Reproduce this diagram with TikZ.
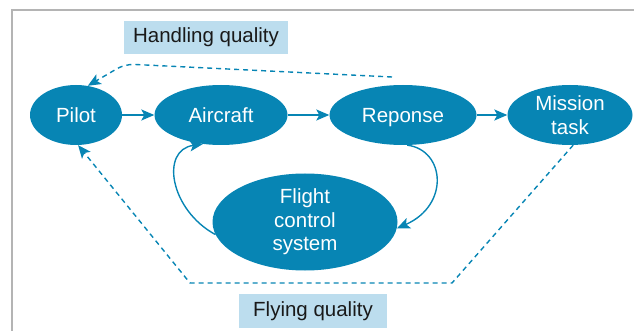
\documentclass[tikz,border=0pt]{standalone}
\usepackage{fontspec}
\setmainfont{Liberation Sans}
\usetikzlibrary{shapes.geometric,arrows.meta}
\definecolor{flowblue}{HTML}{0785B4}
\definecolor{tagblue}{HTML}{BCDDEE}
\definecolor{framegray}{HTML}{B4B4B4}
\begin{document}
\begin{tikzpicture}[x=1pt,y=-1pt,
  blob/.style={ellipse,fill=flowblue,text=white,inner sep=0pt,align=center,
    font=\fontsize{20.5}{23.5}\selectfont},
  tag/.style={fill=tagblue,text=black!90,inner sep=0pt,
    font=\fontsize{20.5}{24}\selectfont},
  conn/.style={draw=flowblue,line width=1.4pt,
    -{Stealth[length=13pt,width=11pt,inset=3pt]}},
  quality/.style={draw=flowblue,line width=1.4pt,dash pattern=on 5pt off 4pt,
    -{Stealth[length=13pt,width=11pt,inset=3pt]}}]
\useasboundingbox (0,0) rectangle (634,331);
% frame
\draw[framegray,line width=1.5pt] (12,331) -- (12,10) -- (634,10);
% blocks
\node[blob,minimum width=92pt,minimum height=60pt] (pilot) at (76,115) {Pilot};
\node[blob,minimum width=133pt,minimum height=60pt] (aircraft) at (221,115) {Aircraft};
\node[blob,minimum width=147pt,minimum height=60pt,text depth=0pt] (reponse) at (403,115) {Reponse};
\node[blob,minimum width=125pt,minimum height=60pt] (mission) at (570,115) {Mission\\task};
\node[blob,minimum width=185pt,minimum height=97pt] (fcs) at (305,222) {Flight\\control\\system};
% labels
\node[tag,minimum width=164pt,minimum height=33pt] (hq) at (206,37.5) {Handling quality};
\node[tag,minimum width=148pt,minimum height=34pt] (fq) at (313,311) {Flying quality};
% main chain
\draw[conn] (pilot) -- (aircraft);
\draw[conn] (aircraft) -- (reponse);
\draw[conn] (reponse) -- (mission);
% feedback through the flight control system
\draw[conn] (reponse.-82) .. controls (445,150) and (450,205) .. (fcs.-4);
\draw[conn] (fcs.188) .. controls (170,210) and (160,150) .. (aircraft.-122);
% quality loops
\coordinate (hqstart) at (392,77);
\draw[quality,rounded corners=9pt] (hqstart) -- (125,64) -- (pilot.68);
\draw[quality] (mission.-84) -- (452,283) -- (190,283) -- (pilot.-86);
\end{tikzpicture}
\end{document}
